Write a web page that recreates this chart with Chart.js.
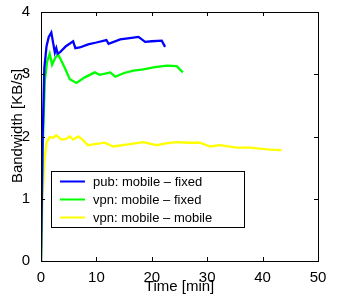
<!DOCTYPE html>
<html><head><meta charset="utf-8">
<script src="https://cdn.jsdelivr.net/npm/chart.js@4"></script>
<style>html,body{margin:0;padding:0;background:#fff}#wrap{width:342px;height:296px}</style>
</head><body><div id="wrap"><canvas id="c" width="342" height="296"></canvas></div>
<script>
const seriesLabels = ["pub: mobile \u2013 fixed", "vpn: mobile \u2013 fixed", "vpn: mobile \u2013 mobile"];
const xTitle = "Time [min]";
const yTitle = "Bandwidth [KB/s]";
const pubT = [0,0.3,0.6,1.0,1.4,1.86,2.2,2.5,2.76,3.0,3.5,4.5,5.8,6.2,7,8.5,10,11.8,12.2,14.3,16,17.6,18.8,20,21.8,22.4];
const pubV = [0,2.0,3.1,3.45,3.6,3.67,3.5,3.35,3.42,3.33,3.36,3.45,3.53,3.42,3.43,3.48,3.51,3.55,3.49,3.56,3.58,3.6,3.52,3.53,3.54,3.44];
const vpnFT = [0,0.3,0.7,1.1,1.57,2.0,2.5,3.07,3.5,4.3,5.2,6.4,7.9,9.7,10.6,12.5,13.4,15,16.7,18.5,20.3,22.7,24.5,25.6];
const vpnFV = [0,1.8,2.9,3.2,3.33,3.15,3.25,3.32,3.25,3.1,2.92,2.86,2.95,3.03,2.99,3.03,2.96,3.02,3.06,3.08,3.11,3.14,3.13,3.03];
const vpnMT = [0,0.3,0.6,1.0,1.57,2.2,2.77,3.7,4.5,5.2,5.8,6.7,7.5,8.5,10,11.5,13,15.4,18.5,20.9,22.5,24.5,26.5,28.7,30.5,32.3,35.3,37.7,41.3,43.4];
const vpnMV = [0,1.0,1.6,1.9,1.99,1.98,2.02,1.95,1.96,2.0,1.95,2.0,1.95,1.86,1.88,1.9,1.84,1.87,1.91,1.86,1.89,1.91,1.9,1.9,1.84,1.86,1.82,1.82,1.79,1.78];
const xTicks = [0,10,20,30,40,50];
const yTicks = [0,1,2,3,4];
const colors = ["#0000ff","#00ff00","#ffff00"];

function pts(t,v){return t.map((x,i)=>({x:x,y:v[i]}));}
const FONT = "'Liberation Sans', Arial, sans-serif";

const frame = {
  id:'frame',
  afterDraw(chart){
    const {ctx, chartArea:a, scales:{x,y}} = chart;
    ctx.save();
    ctx.strokeStyle='#000'; ctx.lineWidth=1;
    ctx.strokeRect(Math.round(a.left)+0.5, Math.round(a.top)+0.5, Math.round(a.right-a.left), Math.round(a.bottom-a.top));
    const L=4;
    ctx.beginPath();
    xTicks.forEach(v=>{const p=Math.round(x.getPixelForValue(v))+0.5;
      ctx.moveTo(p,a.bottom);ctx.lineTo(p,a.bottom-L);ctx.moveTo(p,a.top);ctx.lineTo(p,a.top+L);});
    yTicks.forEach(v=>{const p=Math.round(y.getPixelForValue(v))+0.5;
      ctx.moveTo(a.left,p);ctx.lineTo(a.left+L,p);ctx.moveTo(a.right,p);ctx.lineTo(a.right-L,p);});
    ctx.stroke();
    // axis titles
    ctx.fillStyle='#000';
    ctx.font="15px "+FONT; ctx.textAlign='center'; ctx.textBaseline='alphabetic';
    ctx.fillText(xTitle,(a.left+a.right)/2,291);
    ctx.save(); ctx.translate(22,126); ctx.rotate(-Math.PI/2);
    ctx.font="15px "+FONT; ctx.fillText(yTitle,0,0); ctx.restore();
    // legend box
    const bx=51.5, by=171.5, bw=193, bh=56;
    ctx.fillStyle='#fff'; ctx.fillRect(bx,by,bw,bh); ctx.strokeRect(bx,by,bw,bh);
    ctx.font="13px "+FONT; ctx.textBaseline='middle'; ctx.textAlign='left';
    chart.data.datasets.forEach((d,i)=>{
      const yy=by+10+i*18;
      ctx.strokeStyle=d.borderColor; ctx.lineWidth=2;
      ctx.beginPath(); ctx.moveTo(60,yy); ctx.lineTo(85,yy); ctx.stroke();
      ctx.fillStyle='#000'; ctx.fillText(d.label, 93, yy+0.5);
    });
    ctx.restore();
  }
};

new Chart(document.getElementById('c'), {
  type:'line',
  data:{datasets:[
    {label:seriesLabels[0], data:pts(pubT,pubV), borderColor:colors[0]},
    {label:seriesLabels[1], data:pts(vpnFT,vpnFV), borderColor:colors[1]},
    {label:seriesLabels[2], data:pts(vpnMT,vpnMV), borderColor:colors[2]}
  ].map(d=>Object.assign(d,{borderWidth:2.3,pointRadius:0,tension:0,fill:false}))},
  options:{
    responsive:false, animation:false, devicePixelRatio:1,
    layout:{padding:{left:0,right:24,top:11,bottom:0}},
    plugins:{legend:{display:false},tooltip:{enabled:false}},
    scales:{
      x:{type:'linear',min:0,max:50,
        afterBuildTicks(s){s.ticks=xTicks.map(v=>({value:v}));},
        afterFit(s){s.height=35;},
        grid:{display:false}, border:{display:false},
        ticks:{color:'#000',font:{family:FONT,size:15},padding:0,maxRotation:0},
        title:{display:false}},
      y:{min:0,max:4,
        afterBuildTicks(s){s.ticks=yTicks.map(v=>({value:v}));},
        afterFit(s){s.width=41;},
        grid:{display:false}, border:{display:false},
        ticks:{color:'#000',font:{family:FONT,size:15},padding:3},
        title:{display:false}}
    }
  },
  plugins:[frame]
});
</script></body></html>
